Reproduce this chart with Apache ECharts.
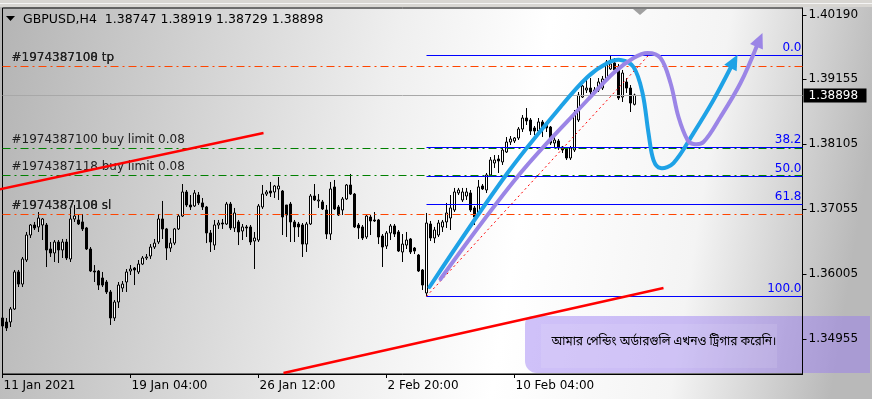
<!DOCTYPE html>
<html>
<head>
<meta charset="utf-8">
<script src="https://cdn.jsdelivr.net/npm/echarts@6/dist/echarts.min.js"></script>
<style>
  html, body { margin: 0; padding: 0; }
  #main { width: 872px; height: 399px; }
</style>
</head>
<body>
<div id="main"></div>
<script>
// GBPUSD H4 bars, [open, high, low, close]
var bars = [
  [1.35296,1.35344,1.35086,1.35166],[1.35231,1.35296,1.35086,1.35134],[1.35231,1.35473,1.35150,1.35441],
  [1.35441,1.36071,1.35425,1.36039],[1.36039,1.36071,1.35796,1.35844],[1.35844,1.36281,1.35796,1.36249],
  [1.36232,1.36685,1.36200,1.36636],[1.36636,1.36814,1.36588,1.36798],[1.36798,1.36847,1.36717,1.36750],
  [1.36766,1.37008,1.36685,1.36911],[1.36798,1.36911,1.36555,1.36895],[1.36798,1.36830,1.36119,1.36394],
  [1.36410,1.36523,1.36281,1.36346],[1.36346,1.36555,1.36200,1.36523],[1.36523,1.36555,1.36184,1.36394],
  [1.36394,1.36572,1.36265,1.36523],[1.36523,1.36572,1.36232,1.36265],[1.36249,1.37057,1.36200,1.36895],
  [1.36895,1.37121,1.36847,1.36943],[1.36879,1.36975,1.36798,1.36814],[1.36847,1.36975,1.36701,1.36734],
  [1.36750,1.36766,1.36394,1.36410],[1.36410,1.36442,1.36039,1.36055],[1.36055,1.36151,1.35877,1.36039],
  [1.36055,1.36071,1.35748,1.35828],[1.35942,1.36039,1.35796,1.35828],[1.35877,1.35909,1.35683,1.35716],
  [1.35716,1.35748,1.35183,1.35296],[1.35296,1.35586,1.35247,1.35554],[1.35554,1.35877,1.35457,1.35828],
  [1.35780,1.35893,1.35716,1.35844],[1.35877,1.36087,1.35716,1.36039],[1.36055,1.36151,1.35990,1.36087],
  [1.36103,1.36119,1.35828,1.36071],[1.36039,1.36232,1.36006,1.36167],[1.36167,1.36297,1.36151,1.36265],
  [1.36265,1.36329,1.36232,1.36281],[1.36297,1.36490,1.36249,1.36442],[1.36442,1.36572,1.36410,1.36506],
  [1.36523,1.36975,1.36490,1.36895],[1.36895,1.37186,1.36572,1.36734],[1.36734,1.36750,1.36232,1.36426],
  [1.36426,1.36588,1.36362,1.36506],[1.36506,1.36750,1.36474,1.36734],[1.36734,1.36975,1.36717,1.36943],
  [1.36943,1.37460,1.36927,1.37331],[1.37331,1.37363,1.37089,1.37121],[1.37121,1.37282,1.37040,1.37089],
  [1.37105,1.37363,1.37089,1.37315],[1.37282,1.37331,1.37121,1.37154],[1.37154,1.37234,1.37040,1.37089],
  [1.37089,1.37105,1.36506,1.36669],[1.36669,1.36717,1.36362,1.36523],[1.36474,1.36879,1.36394,1.36798],
  [1.36798,1.36879,1.36734,1.36830],[1.36830,1.36895,1.36734,1.36814],[1.36814,1.37170,1.36798,1.37137],
  [1.37137,1.37170,1.36717,1.36750],[1.36750,1.37073,1.36685,1.36992],[1.36847,1.36879,1.36474,1.36685],
  [1.36701,1.36814,1.36555,1.36766],[1.36766,1.36798,1.36604,1.36750],[1.36766,1.36798,1.36474,1.36523],
  [1.36539,1.36685,1.36087,1.36588],[1.36555,1.37137,1.36523,1.37105],[1.37089,1.37444,1.37057,1.37298],
  [1.37298,1.37363,1.37266,1.37331],[1.37347,1.37493,1.37250,1.37315],[1.37331,1.37444,1.37234,1.37428],
  [1.37380,1.37573,1.37202,1.37428],[1.37347,1.37363,1.36636,1.36927],[1.37121,1.37121,1.36604,1.36959],
  [1.37137,1.37170,1.36523,1.36847],[1.36847,1.36879,1.36523,1.36766],[1.36814,1.36847,1.36604,1.36766],
  [1.36798,1.36830,1.36281,1.36490],[1.36490,1.36847,1.36362,1.36814],[1.36814,1.37298,1.36798,1.37266],
  [1.37266,1.37460,1.37186,1.37202],[1.37186,1.37298,1.37073,1.37202],[1.37170,1.37202,1.37040,1.37057],
  [1.37040,1.37121,1.36572,1.36652],[1.36652,1.37493,1.36555,1.37380],[1.37412,1.37525,1.37040,1.37057],
  [1.37089,1.37121,1.36943,1.36959],[1.37040,1.37250,1.36959,1.37218],[1.37218,1.37460,1.37202,1.37444],
  [1.37444,1.37622,1.37282,1.37298],[1.37298,1.37315,1.36750,1.36766],[1.36798,1.36830,1.36572,1.36750],
  [1.36766,1.36798,1.36555,1.36588],[1.36604,1.36959,1.36572,1.36943],[1.36927,1.36959,1.36636,1.36863],
  [1.36879,1.37008,1.36847,1.36863],[1.36879,1.36895,1.36490,1.36604],[1.36620,1.36652,1.36119,1.36442],
  [1.36458,1.36701,1.36410,1.36669],[1.36669,1.36814,1.36555,1.36782],[1.36782,1.36814,1.36604,1.36652],
  [1.36685,1.36717,1.36362,1.36378],[1.36362,1.36652,1.36200,1.36490],[1.36474,1.36685,1.36410,1.36555],
  [1.36572,1.36588,1.36329,1.36362],[1.36426,1.36442,1.36329,1.36378],[1.36313,1.36329,1.36039,1.36055],
  [1.36071,1.36087,1.35748,1.35828],[1.35700,1.36992,1.35646,1.36830],[1.36814,1.36863,1.36539,1.36588],
  [1.36588,1.36766,1.36506,1.36717],[1.36636,1.36879,1.36604,1.36830],[1.36766,1.36879,1.36685,1.36847],
  [1.36847,1.37154,1.36750,1.36992],[1.36911,1.37282,1.36717,1.37073],[1.37040,1.37396,1.37008,1.37331],
  [1.37315,1.37396,1.37282,1.37363],[1.37202,1.37396,1.37170,1.37331],[1.37266,1.37396,1.37202,1.37331],
  [1.37315,1.37363,1.37008,1.37040],[1.37073,1.37105,1.36798,1.36927],[1.36975,1.37525,1.36927,1.37412],
  [1.37428,1.37460,1.37363,1.37380],[1.37363,1.37638,1.37315,1.37606],[1.37606,1.37896,1.37573,1.37848],
  [1.37799,1.37928,1.37719,1.37848],[1.37864,1.37928,1.37638,1.37832],[1.37816,1.38058,1.37767,1.38009],
  [1.37977,1.38219,1.37961,1.38138],[1.38138,1.38235,1.38090,1.38187],[1.38155,1.38219,1.38122,1.38203],
  [1.38203,1.38380,1.38171,1.38348],[1.38348,1.38574,1.38300,1.38526],[1.38526,1.38687,1.38413,1.38478],
  [1.38494,1.38526,1.38252,1.38316],[1.38365,1.38397,1.38252,1.38316],[1.38316,1.38526,1.38284,1.38462],
  [1.38462,1.38494,1.38219,1.38348],[1.38429,1.38462,1.38300,1.38365],[1.38380,1.38397,1.38090,1.38122],
  [1.38122,1.38219,1.38042,1.38171],[1.38155,1.38187,1.38009,1.38042],[1.38058,1.38074,1.37961,1.38009],
  [1.38025,1.38042,1.37848,1.37880],[1.37880,1.38074,1.37848,1.38042],[1.38009,1.38655,1.37977,1.38607],
  [1.38494,1.38946,1.38462,1.38897],[1.38865,1.39059,1.38849,1.39043],[1.38978,1.39140,1.38930,1.39010],
  [1.39010,1.39172,1.38865,1.38946],[1.38946,1.39027,1.38897,1.38978],[1.38978,1.39172,1.38946,1.39108],
  [1.39010,1.39205,1.38978,1.39156],[1.39140,1.39463,1.39108,1.39431],[1.39318,1.39539,1.39302,1.39399],
  [1.39415,1.39495,1.39269,1.39302],[1.39350,1.39399,1.38817,1.38849],[1.38865,1.39302,1.38785,1.39253],
  [1.39108,1.39172,1.38930,1.39010],[1.39010,1.39059,1.38623,1.38768],[1.38747,1.38919,1.38729,1.38898]
];

var symbolName = "GBPUSD,H4";
var lastPrice = 1.38898;

// axis
var yTickValues = [1.34955, 1.36005, 1.37055, 1.38105, 1.39155, 1.40190];
var yMin = 1.34391, yMax = 1.40303;
var xLabelIndex = [0, 32, 64, 96, 128];
var xLabelText = ["11 Jan 2021", "19 Jan 04:00", "26 Jan 12:00", "2 Feb 20:00", "10 Feb 04:00"];
var slotCount = 201;

// pending orders
var orderPrices = [1.39371, 1.38046, 1.37605, 1.36970];
var orderKinds = ["tp", "buy", "buy", "sl"];
var orderNames = ["#1974387108 tp", "#1974387100 buy limit 0.08", "#1974387118 buy limit 0.08", "#1974387108 sl"];
var orderGhosts = ["#1974387100 tp", "", "", "#1974387100 sl"];

// fibonacci
var fibLevels = [0, 38.2, 50, 61.8, 100];
var fibLabels = ["0.0", "38.2", "50.0", "61.8", "100.0"];
var fibHigh = 1.39539, fibLow = 1.35646;
var fibFrom = 106, fibTrendEnd = 161.5;

// trend lines, [bar index, price]
var trendUpper = [[-1, 1.37370], [65.25, 1.38284]];
var trendLower = [[70.25, 1.34407], [165.25, 1.35780]];

// projected paths, [bar index, price]
var bluePath = [[106.75,1.35796],[126.25,1.37637],[139.5,1.38704],[146.25,1.39188],[151.25,1.39414],
  [154.5,1.39463],[157.75,1.39350],[160,1.38930],[161.5,1.38283],[162.75,1.37847],[164.5,1.37718],
  [167.75,1.37799],[172.75,1.38283],[177.75,1.38817],[183.75,1.39547]];
var purplePath = [[109.5,1.35925],[129.5,1.37637],[146.25,1.38817],[152.75,1.39253],[157.75,1.39495],
  [161.25,1.39576],[164.5,1.39495],[167,1.39091],[169,1.38542],[171.25,1.38170],[172.75,1.38106],
  [175.25,1.38138],[179.5,1.38542],[184.5,1.39091],[190,1.39899]];

var noteText = "আমার পেন্ডিং অর্ডারগুলি এখনও ট্রিগার করেনি।";

// H4 bar times, weekdays only
var categories = [];
(function () {
  var t = Date.UTC(2021, 0, 11, 20);
  while (categories.length < slotCount) {
    var d = new Date(t);
    var wd = d.getUTCDay();
    if (wd !== 0 && wd !== 6) {
      categories.push(d.toISOString().slice(0, 16).replace("T", " "));
    }
    t += 4 * 3600 * 1000;
  }
})();

var FONT = '12px "DejaVu Sans"';

function pathWithArrow(pts, color) {
  var n = pts.length;
  var tip = pts[n - 1], prev = pts[n - 2];
  var dx = tip[0] - prev[0], dy = tip[1] - prev[1];
  var len = Math.sqrt(dx * dx + dy * dy);
  dx /= len; dy /= len;
  var headLen = 15, half = 7;
  var base = [tip[0] - dx * headLen, tip[1] - dy * headLen];
  var body = pts.slice(0, n - 1).concat([[base[0] + dx * 2, base[1] + dy * 2]]);
  return [
    { type: "polyline", shape: { points: body, smooth: 0.35 },
      style: { stroke: color, lineWidth: 4, fill: null, lineCap: "round", lineJoin: "round" } },
    { type: "polygon", shape: { points: [tip, [base[0] - dy * half, base[1] + dx * half], [base[0] + dy * half, base[1] - dx * half]] },
      style: { fill: color } }
  ];
}

function renderOverlay(params, api) {
  var cs = params.coordSys;
  var left = cs.x, right = cs.x + cs.width;
  var x0 = api.coord([0, yMin])[0];
  var x1 = api.coord([1, yMin])[0];
  var X = function (i) { return x0 + (x1 - x0) * i; };
  var Y = function (p) { return api.coord([0, p])[1]; };
  var P = function (q) { return [X(q[0]), Y(q[1])]; };
  var kids = [];

  // current price line
  var yl = Math.round(Y(lastPrice)) + 0.5;
  kids.push({ type: "line", shape: { x1: left, y1: yl, x2: right, y2: yl }, style: { stroke: "#a8a8a8", lineWidth: 1 } });

  // pending order lines
  orderPrices.forEach(function (p, k) {
    var y = Math.round(Y(p)) + 0.5;
    var col = orderKinds[k] === "buy" ? "#008000" : "#ff4500";
    kids.push({ type: "line", shape: { x1: left, y1: y, x2: right, y2: y },
      style: { stroke: col, lineWidth: 1, lineDash: [8, 4, 2, 4] } });
    if (orderGhosts[k]) {
      kids.push({ type: "text", style: { text: orderGhosts[k], x: left + 9, y: y - 9, font: FONT, fill: "#202020", align: "left", verticalAlign: "middle" } });
    }
    kids.push({ type: "text", style: { text: orderNames[k], x: left + 9, y: y - 9, font: FONT, fill: "#202020", align: "left", verticalAlign: "middle" } });
  });

  // fibonacci retracement
  var fx = X(fibFrom);
  fibLevels.forEach(function (lv, k) {
    var p = fibHigh - (fibHigh - fibLow) * lv / 100;
    var y = Math.round(Y(p)) + 0.5;
    kids.push({ type: "line", shape: { x1: fx, y1: y, x2: right, y2: y }, style: { stroke: "#0000ff", lineWidth: 1 } });
    kids.push({ type: "text", style: { text: fibLabels[k], x: right - 1, y: y - 8, font: FONT, fill: "#0000ff", align: "right", verticalAlign: "middle" } });
  });
  var fa = P([fibFrom, fibLow]), fb = P([fibTrendEnd, fibHigh]);
  kids.push({ type: "line", shape: { x1: fa[0], y1: fa[1], x2: fb[0], y2: fb[1] }, style: { stroke: "#ff0000", lineWidth: 1, lineDash: [2, 3] } });

  // trend lines
  [trendUpper, trendLower].forEach(function (tl) {
    var a = P(tl[0]), b = P(tl[1]);
    kids.push({ type: "line", shape: { x1: a[0], y1: a[1], x2: b[0], y2: b[1] }, style: { stroke: "#ff0000", lineWidth: 2.5 } });
  });

  // projected paths
  kids = kids.concat(pathWithArrow(bluePath.map(P), "#1ea2e6"));
  kids = kids.concat(pathWithArrow(purplePath.map(P), "#9b85e6"));

  // current price tag on the axis
  kids.push({ type: "rect", shape: { x: right + 1, y: yl - 7, width: 63, height: 14 }, style: { fill: "#000" } });
  kids.push({ type: "text", style: { text: lastPrice.toFixed(5), x: right + 6, y: yl, font: FONT, fill: "#fff", align: "left", verticalAlign: "middle" } });

  return { type: "group", children: kids };
}

var chart = echarts.init(document.getElementById("main"), null, { renderer: "canvas" });

var option = {
  animation: false,
  backgroundColor: new echarts.graphic.LinearGradient(0, 0, 1, 0.35, [
    { offset: 0, color: "#b4b4b4" },
    { offset: 0.45, color: "#efefef" },
    { offset: 0.62, color: "#ffffff" },
    { offset: 0.82, color: "#f4f4f4" },
    { offset: 1, color: "#b9b9b9" }
  ]),
  textStyle: { fontFamily: "DejaVu Sans" },
  grid: { left: 2.5, right: 69.5, top: 8, bottom: 25, show: true, borderColor: "#000", borderWidth: 1, backgroundColor: "transparent" },
  xAxis: {
    type: "category",
    data: categories,
    boundaryGap: false,
    axisLine: { lineStyle: { color: "#000", width: 1 } },
    axisTick: { length: 4, lineStyle: { color: "#000" }, interval: function (i) { return xLabelIndex.indexOf(i) >= 0; } },
    axisLabel: {
      interval: function (i) { return xLabelIndex.indexOf(i) >= 0; },
      formatter: function (v, i) { var k = xLabelIndex.indexOf(i); return k >= 0 ? xLabelText[k] : ""; },
      align: "left", margin: 6, padding: [0, 0, 0, 1],
      color: "#000", fontSize: 12, fontFamily: "DejaVu Sans"
    },
    splitLine: { show: false }
  },
  yAxis: {
    type: "value",
    position: "right",
    min: yMin, max: yMax,
    scale: true,
    axisLine: { show: true, lineStyle: { color: "#000", width: 1 } },
    axisTick: { show: true, length: 4, lineStyle: { color: "#000" }, customValues: yTickValues },
    axisLabel: { customValues: yTickValues, formatter: function (v) { return v.toFixed(5); }, margin: 6, color: "#000", fontSize: 12, fontFamily: "DejaVu Sans" },
    splitLine: { show: false }
  },
  graphic: [
    { type: "rect", shape: { x: 0, y: 0, width: 872, height: 7 }, style: { fill: "#d8d6d2" }, z: -1 },
    { type: "line", shape: { x1: 0, y1: 3.5, x2: 872, y2: 3.5 }, style: { stroke: "#f4f4f4", lineWidth: 1 } },
    { type: "polygon", shape: { points: [[6, 16], [15, 16], [10.5, 21]] }, style: { fill: "#000" } },
    { type: "text", style: { text: symbolName + "  1.38747 1.38919 1.38729 1.38898", x: 23, y: 20, font: '12.5px "DejaVu Sans"', fill: "#000", verticalAlign: "middle" } },
    { type: "polygon", shape: { points: [[633, 9], [647, 9], [640, 15]] }, style: { fill: "#a0a0a0" } },
    { type: "rect", shape: { x: 525, y: 316, width: 345, height: 57, r: [8, 0, 0, 12] }, style: { fill: "rgba(150,120,245,0.45)" } },
    { type: "rect", shape: { x: 541, y: 324, width: 236, height: 44 }, style: { fill: "rgba(255,255,255,0.10)" } },
    { type: "text", style: { text: noteText, x: 664, y: 343, font: '12px "Noto Sans Bengali", "Lohit Bengali", "FreeSans", "Noto Sans", sans-serif', fill: "#000", align: "center", verticalAlign: "middle" } }
  ],
  series: [
    {
      type: "candlestick",
      data: bars.map(function (b) { return [b[0], b[3], b[2], b[1]]; }),
      barWidth: 2,
      itemStyle: { color: "#ffffff", color0: "#000000", borderColor: "#000000", borderColor0: "#000000", borderWidth: 1 },
      z: 2
    },
    {
      type: "custom",
      data: [[0, lastPrice]],
      renderItem: renderOverlay,
      silent: true,
      z: 5
    }
  ]
};

chart.setOption(option);
</script>
</body>
</html>
